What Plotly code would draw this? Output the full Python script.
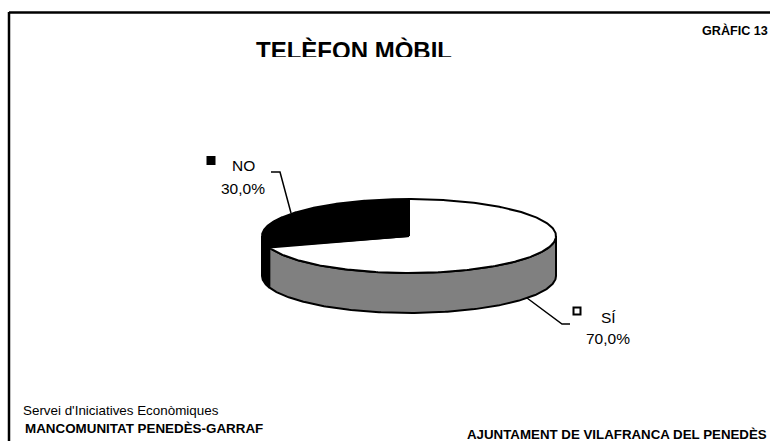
import numpy as np
import plotly.graph_objects as go

categories = ["SÍ", "NO"]
values = [70.0, 30.0]
top_colors = ["#ffffff", "#000000"]
side_colors = ["#808080", "#000000"]

W, H = 770, 441
cx, cy, rx, ry, depth = 409, 236, 147, 37, 40
FONT = "Liberation Sans"


def pt(theta, dy=0):
    return cx + rx * np.sin(theta), cy - ry * np.cos(theta) + dy


fig = go.Figure()
shares = np.array(values) / sum(values) * 2 * np.pi
start = 0.0
for name, share, top, side in zip(categories, shares, top_colors, side_colors):
    end = start + share
    a, b = max(start, np.pi / 2), min(end, 3 * np.pi / 2)
    if b > a:
        t = np.linspace(a, b, 200)
        x1, y1 = pt(t)
        x2, y2 = pt(t[::-1], depth)
        fig.add_trace(go.Scatter(x=np.r_[x1, x2, x1[0]], y=np.r_[y1, y2, y1[0]], mode="lines",
                                 fill="toself", fillcolor=side, line=dict(color="black", width=2),
                                 hoverinfo="skip", showlegend=False))
    start = end
start = 0.0
for name, share, top, side in zip(categories, shares, top_colors, side_colors):
    end = start + share
    t = np.linspace(start, end, 300)
    x1, y1 = pt(t)
    fig.add_trace(go.Scatter(x=np.r_[cx, x1, cx], y=np.r_[cy, y1, cy], mode="lines",
                             fill="toself", fillcolor=top, line=dict(color="black", width=2),
                             hoverinfo="skip", showlegend=False))
    start = end

fig.add_trace(go.Scatter(x=[271, 280, 291], y=[172, 172, 213], mode="lines",
                         line=dict(color="black", width=1.5), hoverinfo="skip", showlegend=False))
fig.add_trace(go.Scatter(x=[527, 562, 570], y=[298, 324, 324], mode="lines",
                         line=dict(color="black", width=1.5), hoverinfo="skip", showlegend=False))
fig.add_trace(go.Scatter(x=[211, 577], y=[160.5, 311], mode="markers",
                         marker=dict(symbol="square", size=7, color=["black", "white"],
                                     line=dict(color="black", width=2)),
                         hoverinfo="skip", showlegend=False))
fig.add_trace(go.Scatter(x=[354], y=[53], mode="text", text=["TELÈFON MÒBIL"], xaxis="x2", yaxis="y2",
                         textposition="middle center", cliponaxis=True,
                         textfont=dict(family=FONT, size=24, color="black", weight="bold"),
                         hoverinfo="skip", showlegend=False))

axis = dict(visible=False, fixedrange=True)
fig.update_layout(
    width=W, height=H, margin=dict(l=0, r=0, t=0, b=0),
    paper_bgcolor="white", plot_bgcolor="rgba(0,0,0,0)",
    xaxis=dict(range=[0, W], domain=[0, 1], **axis),
    yaxis=dict(range=[H, 0], domain=[0, 1], **axis),
    xaxis2=dict(range=[0, W], domain=[0, 1], anchor="y2", **axis),
    yaxis2=dict(range=[57, 0], domain=[1 - 57 / H, 1], anchor="x2", **axis),
    shapes=[
        dict(type="line", xref="x", yref="y", x0=9, x1=770, y0=12.5, y1=12.5, line=dict(color="black", width=2.5)),
        dict(type="line", xref="x", yref="y", x0=9, x1=9, y0=12, y1=441, line=dict(color="black", width=2.5)),
    ],
)


def note(x, y, text, size, bold=False, anchor="left"):
    fig.add_annotation(x=x, y=y, xref="x", yref="y", text=f"<b>{text}</b>" if bold else text, showarrow=False,
                       xanchor=anchor, yanchor="middle", align="center",
                       font=dict(family=FONT, size=size, color="black"))


note(770, 30, "GRÀFIC 13", 12.6, True, "right")
note(243.5, 165.5, "NO", 15.5, anchor="center")
note(243, 188, "30,0%", 15.5, anchor="center")
note(608, 317.5, "SÍ", 15.5, anchor="center")
note(608, 338, "70,0%", 15.5, anchor="center")
note(21, 410.5, "Servei d'Iniciatives Econòmiques", 13.4)
note(23, 428, "MANCOMUNITAT PENEDÈS-GARRAF", 13.4, True)
note(769, 434, "AJUNTAMENT DE VILAFRANCA DEL PENEDÈS", 13.3, True, "right")

fig.write_html("out.html", config=dict(displayModeBar=False),
               post_script="document.body.style.margin='0';document.body.style.overflow='hidden';")
